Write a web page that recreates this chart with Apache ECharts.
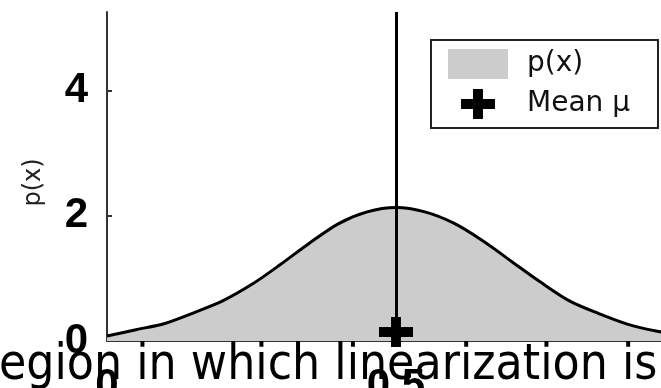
<!DOCTYPE html>
<html>
<head>
<meta charset="utf-8">
<script src="https://cdn.jsdelivr.net/npm/echarts@6/dist/echarts.min.js"></script>
<style>
  html, body { margin: 0; padding: 0; background: #fff; }
  #chart { width: 661px; height: 388px; }
</style>
</head>
<body>
<div id="chart"></div>
<script>
// Density p(x) sampled along x, and the mean marker
const xValues = [0, 0.05, 0.10, 0.15, 0.20, 0.25, 0.30, 0.35, 0.40, 0.45, 0.50,
                 0.55, 0.60, 0.65, 0.70, 0.75, 0.80, 0.85, 0.90, 0.95, 1.00];
const pValues = [0.08, 0.18, 0.28, 0.45, 0.64, 0.90, 1.22, 1.56, 1.87, 2.06, 2.13,
                 2.06, 1.88, 1.60, 1.27, 0.94, 0.64, 0.44, 0.27, 0.16, 0.09];
const meanX = 0.5;
const meanY = 0;
const yTicks = [0, 2, 4];
const xTicks = [0, 0.5];
const seriesNames = ['p(x)', 'Mean \u03bc'];
const captionText = 'egion in which linearization is';

const crossPath = 'path://M12,0H22V10H34V20H22V30H12V20H0V10H12Z';

const chart = echarts.init(document.getElementById('chart'), null, { renderer: 'canvas' });

const tickFont = { fontFamily: 'Liberation Sans', fontWeight: 'bold', fontSize: 42, color: '#000' };

chart.setOption({
  animation: false,
  backgroundColor: '#fff',
  grid: { left: 107, top: 12, width: 578, height: 329, containLabel: false, outerBoundsMode: 'none' },
  legend: {
    orient: 'vertical',
    left: 431,
    top: 40,
    padding: [9, 28, 9, 17],
    itemWidth: 60,
    itemHeight: 30,
    itemGap: 10,
    borderColor: '#222',
    borderWidth: 2,
    backgroundColor: '#fff',
    textStyle: { fontFamily: 'DejaVu Sans', fontSize: 28, color: '#111', padding: [0, 0, 0, 14] },
    data: [
      { name: seriesNames[0], icon: 'rect', itemStyle: { color: '#cccccc', borderWidth: 0, opacity: 1 } },
      { name: seriesNames[1], icon: crossPath, itemStyle: { color: '#000', opacity: 1 } }
    ]
  },
  xAxis: {
    type: 'value',
    min: 0,
    max: 1,
    splitLine: { show: false },
    axisLine: { lineStyle: { color: '#333', width: 2 } },
    axisTick: { show: false },
    axisLabel: Object.assign({ customValues: xTicks, margin: 24 }, tickFont)
  },
  yAxis: {
    type: 'value',
    min: 0,
    max: 5.25,
    name: 'p(x)',
    nameLocation: 'middle',
    nameRotate: 90,
    nameGap: 61,
    nameTextStyle: { fontFamily: 'DejaVu Sans', fontSize: 24, color: '#222', padding: [0, 12, 0, 0] },
    splitLine: { show: false },
    axisLine: { lineStyle: { color: '#333', width: 2 } },
    axisTick: { inside: true, length: 5, customValues: yTicks, lineStyle: { color: '#333', width: 2 } },
    axisLabel: Object.assign({ customValues: yTicks, margin: 19 }, tickFont)
  },
  series: [
    {
      name: seriesNames[0],
      type: 'line',
      data: xValues.map((x, i) => [x, pValues[i]]),
      smooth: 0.3,
      symbol: 'none',
      itemStyle: { color: '#cccccc' },
      lineStyle: { color: '#000', width: 3 },
      areaStyle: { color: '#cccccc', opacity: 1 },
      z: 2
    },
    {
      name: seriesNames[1],
      type: 'scatter',
      data: [[meanX, meanY]],
      symbol: crossPath,
      symbolSize: [34, 30],
      symbolOffset: [0, -9],
      itemStyle: { color: '#000', opacity: 1 },
      z: 4,
      markLine: {
        silent: true,
        symbol: 'none',
        label: { show: false },
        lineStyle: { color: '#000', width: 3, type: 'solid' },
        data: [{ xAxis: meanX }]
      }
    }
  ],
  graphic: [
    {
      type: 'text',
      x: -1,
      y: 341,
      scaleX: 0.888,
      z: 100,
      style: {
        text: captionText,
        font: '50px "DejaVu Sans"',
        fill: '#000'
      }
    }
  ]
});
</script>
</body>
</html>
